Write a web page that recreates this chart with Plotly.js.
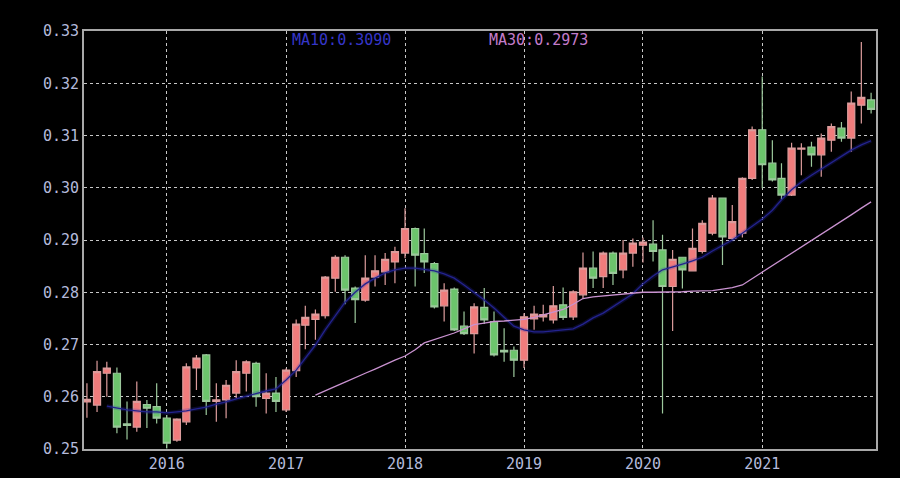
<!DOCTYPE html>
<html>
<head>
<meta charset="utf-8">
<script src="https://cdn.plot.ly/plotly-3.0.1.min.js"></script>
<style>html,body{margin:0;padding:0;background:#000;}#chart{width:900px;height:478px;}</style>
</head>
<body>
<div id="chart"></div>
<script>
const months = ['2015-05','2015-06','2015-07','2015-08','2015-09','2015-10','2015-11','2015-12',
'2016-01','2016-02','2016-03','2016-04','2016-05','2016-06','2016-07','2016-08','2016-09','2016-10','2016-11','2016-12',
'2017-01','2017-02','2017-03','2017-04','2017-05','2017-06','2017-07','2017-08','2017-09','2017-10','2017-11','2017-12',
'2018-01','2018-02','2018-03','2018-04','2018-05','2018-06','2018-07','2018-08','2018-09','2018-10','2018-11','2018-12',
'2019-01','2019-02','2019-03','2019-04','2019-05','2019-06','2019-07','2019-08','2019-09','2019-10','2019-11','2019-12',
'2020-01','2020-02','2020-03','2020-04','2020-05','2020-06','2020-07','2020-08','2020-09','2020-10','2020-11','2020-12',
'2021-01','2021-02','2021-03','2021-04','2021-05','2021-06','2021-07','2021-08','2021-09','2021-10','2021-11','2021-12'];

const openV = [0.2590,0.2584,0.2645,0.2645,0.2548,0.2542,0.2585,0.2581,
0.2559,0.2517,0.2552,0.2655,0.2680,0.2591,0.2594,0.2607,0.2645,0.2664,0.2597,0.2607,
0.2575,0.2650,0.2737,0.2748,0.2755,0.2827,0.2867,0.2808,0.2785,0.2829,0.2839,0.2858,
0.2875,0.2922,0.2874,0.2855,0.2774,0.2806,0.2735,0.2721,0.2771,0.2744,0.2689,0.2689,
0.2670,0.2749,0.2753,0.2747,0.2776,0.2753,0.2795,0.2846,0.2830,0.2875,0.2843,0.2875,
0.2890,0.2892,0.2881,0.2811,0.2867,0.2841,0.2878,0.2913,0.2980,0.2903,0.2913,0.3018,
0.3111,0.3047,0.3018,0.2986,0.3074,0.3078,0.3063,0.3091,0.3114,0.3095,0.3158,0.3168];

const highV = [0.2626,0.2669,0.2667,0.2656,0.2591,0.2629,0.2594,0.2626,
0.2565,0.2559,0.2664,0.2680,0.2682,0.2626,0.2632,0.2670,0.2670,0.2667,0.2645,0.2638,
0.2654,0.2748,0.2774,0.2767,0.2831,0.2871,0.2871,0.2811,0.2871,0.2871,0.2875,0.2887,
0.2961,0.2924,0.2922,0.2858,0.2817,0.2809,0.2763,0.2779,0.2808,0.2763,0.2731,0.2696,
0.2760,0.2774,0.2776,0.2812,0.2809,0.2804,0.2876,0.2878,0.2878,0.2878,0.2900,0.2903,
0.2905,0.2938,0.2910,0.2881,0.2868,0.2922,0.2938,0.2986,0.2981,0.2967,0.3020,0.3117,
0.3213,0.3091,0.3047,0.3086,0.3085,0.3088,0.3104,0.3123,0.3126,0.3184,0.3279,0.3182];

const lowV = [0.2560,0.2571,0.2600,0.2530,0.2518,0.2533,0.2540,0.2549,
0.2501,0.2514,0.2546,0.2613,0.2565,0.2552,0.2559,0.2597,0.2610,0.2581,0.2568,0.2571,
0.2571,0.2638,0.2691,0.2709,0.2750,0.2801,0.2777,0.2741,0.2782,0.2811,0.2814,0.2817,
0.2865,0.2811,0.2837,0.2769,0.2744,0.2726,0.2718,0.2683,0.2739,0.2677,0.2667,0.2638,
0.2655,0.2728,0.2744,0.2740,0.2747,0.2747,0.2788,0.2808,0.2808,0.2814,0.2827,0.2849,
0.2857,0.2859,0.2568,0.2726,0.2807,0.2840,0.2874,0.2909,0.2852,0.2900,0.2905,0.3015,
0.2999,0.3012,0.2977,0.2984,0.3024,0.3040,0.3021,0.3069,0.3088,0.3069,0.3123,0.3142];

const closeV = [0.2595,0.2648,0.2655,0.2542,0.2545,0.2591,0.2578,0.2559,
0.2511,0.2557,0.2657,0.2674,0.2591,0.2594,0.2622,0.2648,0.2667,0.2600,0.2607,0.2591,
0.2651,0.2739,0.2752,0.2758,0.2829,0.2867,0.2804,0.2786,0.2827,0.2841,0.2863,0.2878,
0.2922,0.2871,0.2858,0.2772,0.2804,0.2728,0.2721,0.2772,0.2747,0.2680,0.2686,0.2670,
0.2753,0.2758,0.2757,0.2774,0.2752,0.2801,0.2846,0.2827,0.2875,0.2836,0.2875,0.2894,
0.2896,0.2878,0.2811,0.2863,0.2843,0.2884,0.2932,0.2980,0.2906,0.2935,0.3018,0.3111,
0.3044,0.3015,0.2986,0.3076,0.3076,0.3063,0.3095,0.3117,0.3095,0.3162,0.3173,0.3150];

const ma10 = [null,null,0.2582,0.2578,0.2575,0.2573,0.2571,0.2571,
0.2569,0.2571,0.2573,0.2577,0.2580,0.2586,0.2590,0.2596,0.2601,0.2607,0.2611,0.2615,
0.2632,0.2651,0.2674,0.2699,0.2728,0.2755,0.2781,0.2800,0.2816,0.2827,0.2837,0.2843,
0.2846,0.2846,0.2844,0.2841,0.2835,0.2827,0.2814,0.2800,0.2785,0.2770,0.2753,0.2735,
0.2728,0.2724,0.2724,0.2726,0.2728,0.2730,0.2739,0.2751,0.2760,0.2772,0.2785,0.2797,
0.2816,0.2831,0.2843,0.2848,0.2854,0.2860,0.2867,0.2879,0.2889,0.2900,0.2913,0.2927,
0.2940,0.2957,0.2977,0.2996,0.3011,0.3024,0.3036,0.3049,0.3061,0.3072,0.3082,0.3090];

const ma30 = [null,null,null,null,null,null,null,null,
null,null,null,null,null,null,null,null,null,null,null,null,
null,null,null,0.2603,0.2612,0.2620,0.2628,0.2637,0.2645,0.2653,0.2662,0.2670,
0.2678,0.2690,0.2703,0.2709,0.2716,0.2722,0.2730,0.2738,0.2741,0.2744,0.2745,0.2747,
0.2748,0.2752,0.2757,0.2762,0.2767,0.2777,0.2788,0.2791,0.2793,0.2795,0.2797,0.2799,
0.2800,0.2800,0.2800,0.2801,0.2801,0.2802,0.2802,0.2803,0.2806,0.2809,0.2814,0.2826,
0.2838,0.2850,0.2862,0.2874,0.2886,0.2898,0.2910,0.2922,0.2935,0.2948,0.2961,0.2973];

const yTicks = [0.25,0.26,0.27,0.28,0.29,0.30,0.31,0.32,0.33];
const legendLabels = ['MA10:0.3090','MA30:0.2973'];

const mono = 'DejaVu Sans Mono, Liberation Mono, monospace';

const traces = [
  {type: 'scatter', mode: 'lines', x: months, y: ma10, line: {color: 'rgba(45,45,190,0.22)', width: 4}, hoverinfo: 'skip', showlegend: false},
  {type: 'scatter', mode: 'lines', x: months, y: ma10, line: {color: '#23238e', width: 1.3}, hoverinfo: 'skip', showlegend: false},
  {type: 'scatter', mode: 'lines', x: months, y: ma30, line: {color: '#c992d0', width: 1.3}, hoverinfo: 'skip', showlegend: false},
  {
    type: 'candlestick', x: months, open: openV, high: highV, low: lowV, close: closeV,
    increasing: {line: {color: '#dc9c9c', width: 1.2}, fillcolor: '#f07c7c'},
    decreasing: {line: {color: '#9cc89c', width: 1.2}, fillcolor: '#6cc46c'},
    whiskerwidth: 0, hoverinfo: 'skip', showlegend: false
  }
];

const layout = {
  width: 900, height: 478,
  paper_bgcolor: '#000000', plot_bgcolor: '#000000',
  margin: {l: 84, r: 24, t: 31, b: 29},
  showlegend: false,
  boxgap: 0.12, boxgroupgap: 0.12,
  font: {family: mono, color: '#b4badb', size: 15},
  xaxis: {
    type: 'date', range: ['2015-04-22', '2021-12-16'],
    rangeslider: {visible: false},
    tick0: '2016-01-01', dtick: 'M12', tickformat: '%Y',
    showgrid: true, gridcolor: '#c8c8c8', griddash: 'dot', gridwidth: 1,
    showline: true, mirror: true, linecolor: '#a8a8a8', linewidth: 2,
    ticks: '', zeroline: false, fixedrange: true,
    tickfont: {family: mono, size: 15, color: '#b4badb'}
  },
  yaxis: {
    range: [0.25, 0.33], tickvals: yTicks, tickformat: '.2f',
    showgrid: true, gridcolor: '#c8c8c8', griddash: 'dot', gridwidth: 1,
    showline: true, mirror: true, linecolor: '#a8a8a8', linewidth: 2,
    ticks: '', zeroline: false, fixedrange: true,
    tickfont: {family: mono, size: 15, color: '#b4badb'}
  },
  annotations: [
    {xref: 'paper', yref: 'paper', x: 0.260, y: 0.978, xanchor: 'left', yanchor: 'middle', showarrow: false,
     text: legendLabels[0], font: {family: mono, size: 15, color: '#3636c8'}},
    {xref: 'paper', yref: 'paper', x: 0.509, y: 0.978, xanchor: 'left', yanchor: 'middle', showarrow: false,
     text: legendLabels[1], font: {family: mono, size: 15, color: '#c47ccb'}}
  ]
};

Plotly.newPlot('chart', traces, layout, {displayModeBar: false, staticPlot: true});
</script>
</body>
</html>
